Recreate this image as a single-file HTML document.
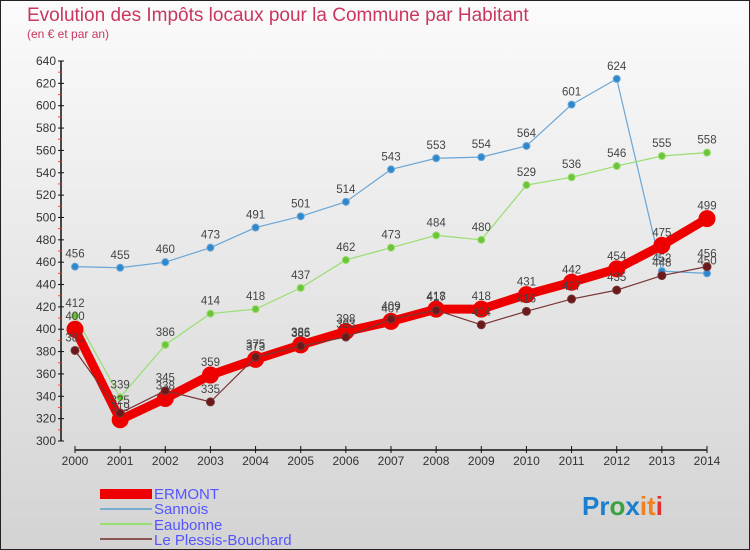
<!DOCTYPE html>
<html><head><meta charset="utf-8"><style>
body{margin:0;}
svg{display:block;font-family:"Liberation Sans",sans-serif;}
</style></head><body>
<svg id="c" width="750" height="550" xmlns="http://www.w3.org/2000/svg">
<defs><linearGradient id="bg" x1="0" y1="0" x2="0" y2="1"><stop offset="0" stop-color="#fbfbfb"/><stop offset="1" stop-color="#d3d3d3"/></linearGradient></defs>
<rect x="0.5" y="0.5" width="749" height="549" fill="url(#bg)" stroke="#222"/>
<text x="27" y="21" font-size="19" fill="#c8385e">Evolution des Impôts locaux pour la Commune par Habitant</text>
<text x="27" y="38" font-size="12" fill="#c8385e">(en € et par an)</text>
<g id="axes"></g>
<g id="series"></g>
<g>
<rect x="100" y="489" width="52" height="10" fill="#ee0000"/>
<text x="154" y="499" font-size="15" fill="#5555ff">ERMONT</text>
<rect x="100" y="508" width="52" height="2" fill="#7aaed0"/>
<text x="154" y="514" font-size="15" fill="#5555ff">Sannois</text>
<rect x="100" y="523" width="52" height="2" fill="#98de70"/>
<text x="154" y="530" font-size="15" fill="#5555ff">Eaubonne</text>
<rect x="100" y="538" width="52" height="2" fill="#8a5555"/>
<text x="154" y="545" font-size="15" fill="#5555ff">Le Plessis-Bouchard</text>
</g>
<text x="582" y="515" font-size="26" font-weight="bold"><tspan fill="#1a7fd0">Pr</tspan><tspan fill="#3aa040">o</tspan><tspan fill="#1a7fd0">x</tspan><tspan fill="#f08020">it</tspan><tspan fill="#e03030">i</tspan></text>
</svg>
<script>
const years=[2000,2001,2002,2003,2004,2005,2006,2007,2008,2009,2010,2011,2012,2013,2014];
const yTicks=[300,320,340,360,380,400,420,440,460,480,500,520,540,560,580,600,620,640];
const ermont=[400,319,338,359,373,386,398,407,418,418,431,442,454,475,499];
const sannois=[456,455,460,473,491,501,514,543,553,554,564,601,624,452,450];
const eaubonne=[412,339,386,414,418,437,462,473,484,480,529,536,546,555,558];
const plessis=[381,325,345,335,375,385,393,409,417,404,416,427,435,448,456];
const NS="http://www.w3.org/2000/svg";
function X(i){return 75+i*(707-75)/(years.length-1);}
function Y(v){return 441-(v-300)*(380/340);}
function mk(tag,attrs,parent){const e=document.createElementNS(NS,tag);for(const k in attrs)e.setAttribute(k,attrs[k]);parent.appendChild(e);return e;}
const ax=document.getElementById('axes');
let yl=mk('line',{x1:61,y1:Y(640),x2:61,y2:Y(300),stroke:'#111','stroke-width':1.5},ax);


yTicks.forEach((t,i)=>{
  mk('line',{x1:58,y1:Y(t),x2:64,y2:Y(t),stroke:'#111'},ax);
  if(i<yTicks.length-1) mk('line',{x1:58,y1:Y(t+10),x2:61,y2:Y(t+10),stroke:'#e44'},ax);
  const tx=mk('text',{x:56,y:Y(t)+4,'font-size':12,fill:'#333','text-anchor':'end'},ax);
  tx.textContent=t;
  
  
});
let xl=mk('line',{x1:X(0),y1:450,x2:X(years.length-1),y2:450,stroke:'#111','stroke-width':1.5},ax);


years.forEach((yr,i)=>{
  mk('line',{x1:X(i),y1:446,x2:X(i),y2:453,stroke:'#111'},ax);
  const tx=mk('text',{x:X(i),y:465,'font-size':12,fill:'#333','text-anchor':'middle'},ax);
  tx.textContent=yr;
  
  
});
const sg=document.getElementById('series');
function draw(data,name,color,w,r,dot){
  const g=mk('g',{},sg);
  
  
  const pts=data.map((v,i)=>X(i)+','+Y(v)).join(' ');
  mk('polyline',{points:pts,fill:'none',stroke:color,'stroke-width':w,'stroke-linejoin':'round'},g);
  data.forEach((v,i)=>{
    const c=mk('circle',{cx:X(i),cy:Y(v),r:r,fill:dot,stroke:color,'stroke-width':1},g);
    
    
    const t=mk('text',{x:X(i),y:Y(v)-9,'font-size':11.5,fill:'#444','text-anchor':'middle'},g);
    t.textContent=v;
    
    
  });
}
draw(sannois,'sannois','#6aa6d6',1.2,3.5,'#2f88cc');
draw(eaubonne,'eaubonne','#98de70',1.2,3.5,'#6cc43a');
draw(ermont,'ermont','#ee0000',9,8,'#ee0000');
draw(plessis,'plessis','#7a3535',1.2,4,'#6a1a1a');
</script>
</body></html>
